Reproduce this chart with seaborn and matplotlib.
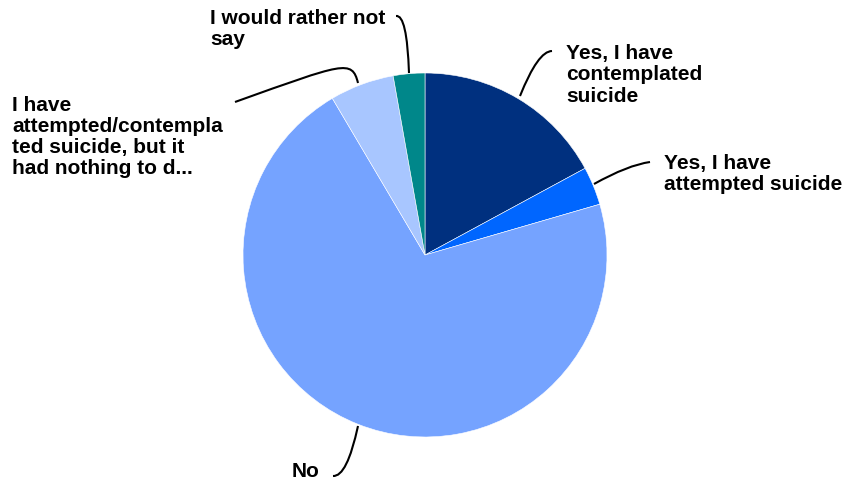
import matplotlib
matplotlib.use("Agg")
import matplotlib.pyplot as plt
from matplotlib.path import Path
from matplotlib.patches import PathPatch
import seaborn as sns

labels = ["Yes, I have\ncontemplated\nsuicide",
          "Yes, I have\nattempted suicide",
          "No",
          "I have\nattempted/contempla\nted suicide, but it\nhad nothing to d...",
          "I would rather not\nsay"]
shares = [17.1, 3.4, 71.0, 5.7, 2.8]
colors = ["#00307F", "#0066FF", "#75A3FF", "#A8C6FF", "#00878A"]

sns.set_theme(style="white")
plt.rcParams['font.family'] = ['Liberation Sans', 'DejaVu Sans']

W, H = 847, 485
fig = plt.figure(figsize=(W / 100, H / 100), dpi=100)
ax = fig.add_axes([0, 0, 1, 1])

# pie centre / radius in pixel coords (y measured from top)
cx, cy, r = 425, 256, 182
ax.pie(shares, colors=colors, startangle=90, counterclock=False,
       center=(cx, H - cy), radius=r, frame=True,
       wedgeprops=dict(edgecolor="white", linewidth=0.4))
ax.set_xlim(0, W)
ax.set_ylim(0, H)
ax.set_aspect("equal")
ax.axis("off")


def leader(pts, codes):
    p = Path([(x, H - y) for x, y in pts], codes)
    ax.add_patch(PathPatch(p, facecolor="none", edgecolor="black", lw=1.5))


C3 = [Path.MOVETO, Path.CURVE3, Path.CURVE3]
leader([(520, 97), (538, 52), (552, 52)], C3)
leader([(594, 185), (628, 166), (650, 163)], C3)
leader([(358, 427), (347, 478), (333, 477)], C3)
leader([(358, 84), (352, 60), (344, 64), (235, 103)],
       [Path.MOVETO, Path.CURVE4, Path.CURVE4, Path.CURVE4])
leader([(409, 74), (407, 15), (396, 17)], C3)

label_pos = [(566, 75), (664, 174), (292, 472), (12, 137), (210, 29)]
for txt, (x, y) in zip(labels, label_pos):
    ax.text(x, H - y, txt, ha="left", va="center", fontsize=15,
            fontweight="bold", color="black", linespacing=1.14,
            multialignment="left")

fig.savefig("out.png", dpi=100)
